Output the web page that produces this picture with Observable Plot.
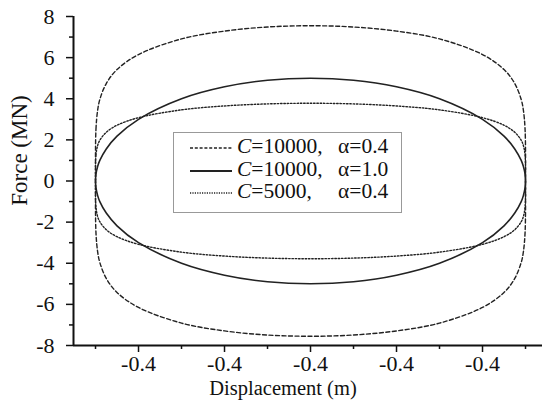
<!DOCTYPE html>
<html><head><meta charset="utf-8">
<script src="https://cdn.jsdelivr.net/npm/d3@7"></script>
<script src="https://cdn.jsdelivr.net/npm/@observablehq/plot@0.6"></script>
<style>
html,body{margin:0;padding:0;background:#fff;}
#wrap{position:relative;width:542px;height:401px;font-family:"Liberation Serif","Times New Roman",serif;}
#wrap svg text{font-family:"Liberation Serif","Times New Roman",serif !important;}
#legend{position:absolute;left:173px;top:132px;width:229px;height:81px;border:1px solid #999;box-sizing:border-box;background:#fff;}
.row{position:absolute;left:0;height:20px;font-size:21.5px;color:#111;white-space:nowrap;}
.row svg{position:absolute;left:16px;top:3px;}
.row .a{position:absolute;left:63px;top:0;line-height:20px;}
.row .b{position:absolute;left:164px;top:0;line-height:20px;}
</style></head>
<body><div id="wrap"></div>
<script>
// Displacement (m), upper branch left->right, lower branch right->left
const dispUpper = [-0.5,-0.499,-0.495,-0.49,-0.475,-0.45,-0.4,-0.3,-0.2,-0.1,0,0.1,0.2,0.3,0.4,0.45,0.475,0.49,0.495,0.499,0.5];
const dispLower = [0.499,0.495,0.49,0.475,0.45,0.4,0.3,0.2,0.1,0,-0.1,-0.2,-0.3,-0.4,-0.45,-0.475,-0.49,-0.495,-0.499];
// Force (MN)
const forceA_up = [0,2.50,3.45,3.96,4.74,5.42,6.15,6.91,7.29,7.49,7.55,7.49,7.29,6.91,6.15,5.42,4.74,3.96,3.45,2.50,0];
const forceA_lo = [-2.50,-3.45,-3.96,-4.74,-5.42,-6.15,-6.91,-7.29,-7.49,-7.55,-7.49,-7.29,-6.91,-6.15,-5.42,-4.74,-3.96,-3.45,-2.50];
const forceB_up = [0,0.32,0.71,1.0,1.56,2.18,3.0,4.0,4.58,4.90,5.0,4.90,4.58,4.0,3.0,2.18,1.56,1.0,0.71,0.32,0];
const forceB_lo = [-0.32,-0.71,-1.0,-1.56,-2.18,-3.0,-4.0,-4.58,-4.90,-5.0,-4.90,-4.58,-4.0,-3.0,-2.18,-1.56,-1.0,-0.71,-0.32];
const forceC_up = [0,1.25,1.73,1.98,2.37,2.71,3.08,3.46,3.65,3.75,3.78,3.75,3.65,3.46,3.08,2.71,2.37,1.98,1.73,1.25,0];
const forceC_lo = [-1.25,-1.73,-1.98,-2.37,-2.71,-3.08,-3.46,-3.65,-3.75,-3.78,-3.75,-3.65,-3.46,-3.08,-2.71,-2.37,-1.98,-1.73,-1.25];

const xTicks = [-0.4,-0.2,0,0.2,0.4];
const xTickLabels = ["-0.4","-0.4","-0.4","-0.4","-0.4"];
const xMinorTicks = [-0.5,-0.3,-0.1,0.1,0.3,0.5];
const yTicks = [-8,-6,-4,-2,0,2,4,6,8];
const yTickLabels = ["-8","-6","-4","-2","0","2","4","6","8"];
const yMinorTicks = [-7,-5,-3,-1,1,3,5,7];
const xLabel = "Displacement (m)";
const yLabel = "Force (MN)";
const xDomain = [-0.5512,0.5395];
const yDomain = [-8,8];

function loop(up, lo){
  const pts = dispUpper.map((x,i)=>({x, y: up[i]}));
  return pts.concat(dispLower.map((x,i)=>({x, y: lo[i]})));
}
const A = loop(forceA_up, forceA_lo);
const B = loop(forceB_up, forceB_lo);
const C = loop(forceC_up, forceC_lo);

const col = "#222";
const ff = "Liberation Serif, Times New Roman, serif";
const chart = Plot.plot({
  width: 542, height: 401,
  marginLeft: 73, marginRight: 0, marginTop: 16, marginBottom: 56,
  x: {domain: xDomain},
  y: {domain: yDomain},
  style: {fontFamily: ff, fontSize: "22px", color: "#111", background: "#fff"},
  marks: [
    Plot.line(A, {x:"x", y:"y", curve:"catmull-rom-closed", stroke: col, strokeWidth: 1.4, strokeDasharray: "4,2.5"}),
    Plot.line(C, {x:"x", y:"y", curve:"catmull-rom-closed", stroke: col, strokeWidth: 1.4, strokeDasharray: "1.5,1.8"}),
    Plot.line(B, {x:"x", y:"y", curve:"catmull-rom-closed", stroke: col, strokeWidth: 1.6}),
    Plot.axisX(xTicks, {tickSize: 7, tickPadding: 3, strokeWidth: 1.5, fontSize: 22, fontFamily: ff, tickFormat: (d,i)=>xTickLabels[i], label: null}),
    Plot.axisX(xMinorTicks, {tickSize: 4, strokeWidth: 1.5, tickFormat: ()=>"", label: null}),
    Plot.axisY(yTicks, {tickSize: 7, tickPadding: 12, strokeWidth: 1.5, fontSize: 22, fontFamily: ff, tickFormat: (d,i)=>yTickLabels[i], label: null}),
    Plot.axisY(yMinorTicks, {tickSize: 4, strokeWidth: 1.5, tickFormat: ()=>"", label: null}),
    Plot.ruleX([xDomain[0]], {stroke: "#111", strokeWidth: 2}),
    Plot.ruleY([yDomain[0]], {stroke: "#111", strokeWidth: 2}),
    Plot.text([xLabel], {text: d=>d, frameAnchor: "bottom", textAnchor: "middle", lineAnchor: "middle", dx: -25, dy: 43, fontSize: 20.5, fontFamily: ff, fill: "#111"}),
    Plot.text([yLabel], {text: d=>d, frameAnchor: "left", rotate: -90, textAnchor: "middle", lineAnchor: "middle", dx: -54, dy: -30.5, fontSize: 23, fontFamily: ff, fill: "#111"})
  ]
});
const wrap = document.getElementById("wrap");
wrap.appendChild(chart);

const legendItems = [
  {c: "10000,", a: "0.4", dash: "3,1.8"},
  {c: "10000,", a: "1.0", dash: null},
  {c: "5000,", a: "0.4", dash: "1.2,1.2"}
];
const lg = document.createElement("div");
lg.id = "legend";
legendItems.forEach((it, i) => {
  const r = document.createElement("div");
  r.className = "row";
  r.style.top = (3 + i*22.5) + "px";
  r.innerHTML = `<svg width="42" height="14"><line x1="0" x2="42" y1="9" y2="9" stroke="#222" stroke-width="${it.dash? 1.3 : 1.8}" ${it.dash ? `stroke-dasharray="${it.dash}"` : ""}/></svg>` +
    `<span class="a"><i>C</i>=${it.c}</span><span class="b">α=${it.a}</span>`;
  lg.appendChild(r);
});
wrap.appendChild(lg);
</script></body></html>
